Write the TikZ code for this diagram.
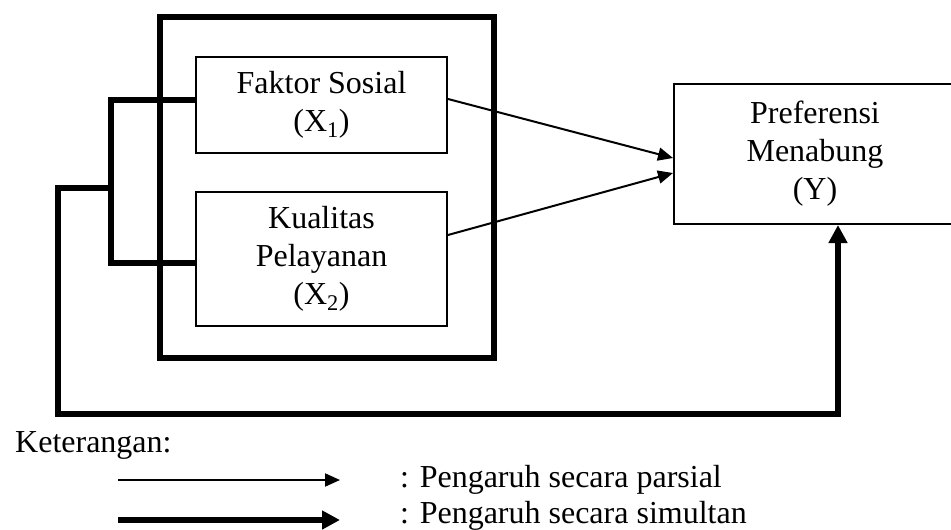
\documentclass[tikz,border=0pt]{standalone}
\usepackage{fontspec}
\setmainfont{Liberation Serif}
\usetikzlibrary{arrows.meta}
\begin{document}
\begin{tikzpicture}[x=1pt,y=-1pt,
  txt/.style={font=\fontsize{32}{38}\selectfont},
  varbox/.style={draw, line width=2pt, align=center, inner sep=0pt, txt},
  grpbox/.style={draw, line width=6pt, inner sep=0pt},
  thinarr/.style={line width=2pt, -{Triangle[length=15pt,width=13pt]}},
  thickln/.style={line width=6.5pt, line join=miter},
  thickarr/.style={thickln, -{Triangle[length=18pt,width=18pt]}},
]
\useasboundingbox (0,0) rectangle (951,530);
% boxes
\node[grpbox, minimum width=334pt, minimum height=341pt] (grp) at (327,187.5) {};
\node[varbox, minimum width=251pt, minimum height=96pt] (fs) at (321.5,105) {Faktor Sosial\\(X\textsubscript{1})};
\node[varbox, minimum width=251pt, minimum height=134pt] (kp) at (321.5,259) {Kualitas\\Pelayanan\\(X\textsubscript{2})};
\node[varbox, minimum width=282pt, minimum height=140pt] (y) at (815,154) {Preferensi\\Menabung\\(Y)};
% partial arrows
\draw[thinarr] ([yshift=6pt]fs.east) -- ([yshift=-4pt]y.west);
\draw[thinarr] ([yshift=24pt]kp.east) -- ([yshift=-19pt]y.west);
% simultaneous bracket
\draw[thickln] ([yshift=5pt]fs.west) -- ++(-84,0) |- ([yshift=-4pt]kp.west);
\coordinate (jn) at (112,188);
\draw[thickarr] (jn) -- (58,188) -- (58,414) -| ([xshift=23pt]y.south);
% legend
\node[txt, anchor=base west, inner sep=0pt] (ket) at (15,452) {Keterangan:};
\coordinate (a1s) at (118,480);
\coordinate (a1e) at (340,480);
\coordinate (a2s) at (118,520);
\coordinate (a2e) at (340,520);
\draw[thinarr] (a1s) -- (a1e);
\draw[thickarr] (a2s) -- (a2e);
\node[txt, anchor=base west, inner sep=0pt] (l1) at (400,487) {: Pengaruh secara parsial};
\node[txt, anchor=base west, inner sep=0pt] (l2) at (400,523) {: Pengaruh secara simultan};
\end{tikzpicture}
\end{document}
